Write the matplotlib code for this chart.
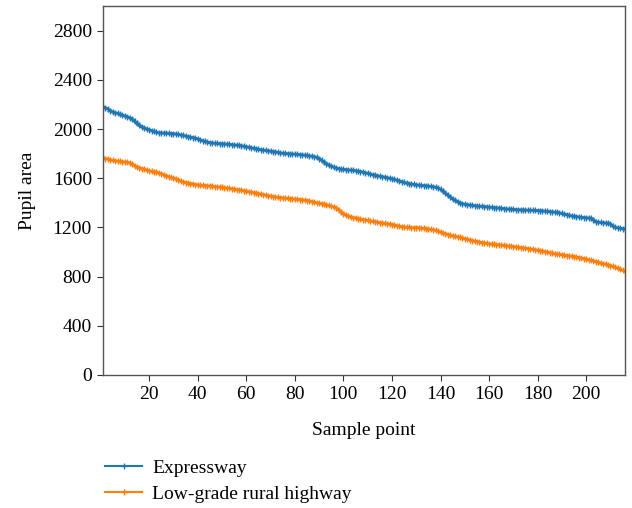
import matplotlib
matplotlib.use("Agg")
import matplotlib.pyplot as plt
import numpy as np

plt.rcParams['font.family'] = ['Liberation Serif', 'DejaVu Serif']

# pupil area per sample point, sorted descending
expressway = [
    2180, 2172, 2165, 2150, 2140, 2132, 2128, 2120, 2112, 2108,
    2100, 2092, 2080, 2062, 2045, 2030, 2018, 2008, 2000, 1994,
    1988, 1980, 1974, 1970, 1969, 1967, 1966, 1965, 1963, 1962,
    1960, 1956, 1952, 1948, 1944, 1938, 1934, 1930, 1926, 1920,
    1912, 1905, 1899, 1894, 1890, 1887, 1885, 1883, 1882, 1880,
    1879, 1877, 1875, 1873, 1871, 1869, 1867, 1864, 1860, 1856,
    1852, 1848, 1844, 1840, 1836, 1832, 1829, 1826, 1823, 1820,
    1817, 1814, 1810, 1806, 1803, 1801, 1800, 1798, 1797, 1796,
    1794, 1792, 1790, 1788, 1785, 1782, 1779, 1775, 1770, 1760,
    1745, 1730, 1718, 1706, 1698, 1690, 1684, 1678, 1674, 1672,
    1670, 1668, 1666, 1664, 1661, 1658, 1654, 1650, 1645, 1640,
    1634, 1628, 1624, 1620, 1616, 1612, 1608, 1604, 1600, 1596,
    1590, 1584, 1578, 1572, 1566, 1560, 1556, 1552, 1549, 1546,
    1544, 1542, 1540, 1538, 1536, 1533, 1530, 1527, 1520, 1510,
    1495, 1478, 1462, 1448, 1432, 1420, 1410, 1400, 1392, 1388,
    1385, 1382, 1379, 1377, 1375, 1373, 1371, 1369, 1367, 1365,
    1363, 1361, 1359, 1357, 1355, 1353, 1351, 1349, 1347, 1346,
    1345, 1344, 1343, 1342, 1341, 1340, 1340, 1339, 1338, 1337,
    1336, 1334, 1332, 1330, 1328, 1326, 1324, 1322, 1318, 1313,
    1308, 1303, 1298, 1294, 1291, 1288, 1285, 1282, 1280, 1278,
    1277, 1275, 1262, 1245, 1242, 1240, 1238, 1236, 1234, 1228,
    1212, 1200, 1196, 1192, 1190, 1188,
]

rural = [
    1768, 1760, 1755, 1750, 1746, 1742, 1738, 1736, 1734, 1732,
    1730, 1724, 1712, 1700, 1692, 1685, 1678, 1672, 1666, 1660,
    1656, 1652, 1648, 1642, 1636, 1628, 1620, 1612, 1606, 1600,
    1594, 1586, 1578, 1570, 1564, 1560, 1556, 1552, 1548, 1545,
    1543, 1541, 1540, 1538, 1536, 1534, 1532, 1530, 1528, 1526,
    1523, 1520, 1517, 1514, 1511, 1508, 1505, 1502, 1498, 1494,
    1490, 1486, 1482, 1478, 1474, 1470, 1466, 1462, 1458, 1454,
    1450, 1447, 1444, 1442, 1440, 1438, 1436, 1434, 1432, 1430,
    1428, 1426, 1424, 1421, 1418, 1414, 1410, 1405, 1400, 1396,
    1392, 1388, 1384, 1378, 1372, 1366, 1360, 1345, 1325, 1310,
    1300, 1292, 1286, 1280, 1276, 1272, 1268, 1264, 1260, 1256,
    1252, 1249, 1246, 1242, 1238, 1235, 1232, 1229, 1226, 1222,
    1218, 1214, 1210, 1206, 1203, 1201, 1200, 1199, 1198, 1197,
    1196, 1194, 1192, 1189, 1186, 1183, 1180, 1176, 1170, 1162,
    1155, 1148, 1142, 1136, 1130, 1126, 1122, 1118, 1113, 1108,
    1103, 1098, 1093, 1089, 1085, 1081, 1077, 1073, 1070, 1066,
    1064, 1062, 1060, 1058, 1056, 1054, 1052, 1049, 1046, 1043,
    1040, 1038, 1035, 1033, 1030, 1027, 1024, 1021, 1017, 1013,
    1010, 1006, 1002, 998, 994, 990, 986, 983, 980, 977,
    974, 971, 968, 965, 962, 958, 954, 950, 946, 942,
    937, 932, 927, 922, 916, 910, 905, 900, 895, 889,
    882, 875, 867, 859, 851, 842,
]

samples = np.arange(1, len(expressway) + 1)

fig = plt.figure(figsize=(6.32, 5.08), dpi=100)
ax = fig.add_axes([0.163, 0.262, 0.826, 0.726])

ax.plot(samples, expressway, color='#1f77b4', marker='+', markersize=5,
        linewidth=2, label='Expressway')
ax.plot(samples, rural, color='#ff7f0e', marker='+', markersize=5,
        linewidth=2, label='Low-grade rural highway')

ax.set_xlim(1, 216)
ax.set_ylim(0, 3000)
ax.set_xticks(range(20, 201, 20))
ax.set_yticks(range(0, 2801, 400))
ax.tick_params(labelsize=14, direction='out', length=4, pad=4, color='#333333')
for s in ax.spines.values():
    s.set_color('#555555')
    s.set_linewidth(1.0)

ax.set_xlabel('Sample point', fontsize=14, labelpad=14)
ax.set_ylabel('Pupil area', fontsize=14, labelpad=12)

leg = fig.legend(loc='upper left', bbox_to_anchor=(0.139, 0.13), frameon=False,
                 fontsize=14, handlelength=1.9, handletextpad=0.5,
                 labelspacing=0.42)
for h in leg.legend_handles:
    h.set_linewidth(1.5)
    h.set_markersize(4)

fig.savefig('out.png', dpi=100)
